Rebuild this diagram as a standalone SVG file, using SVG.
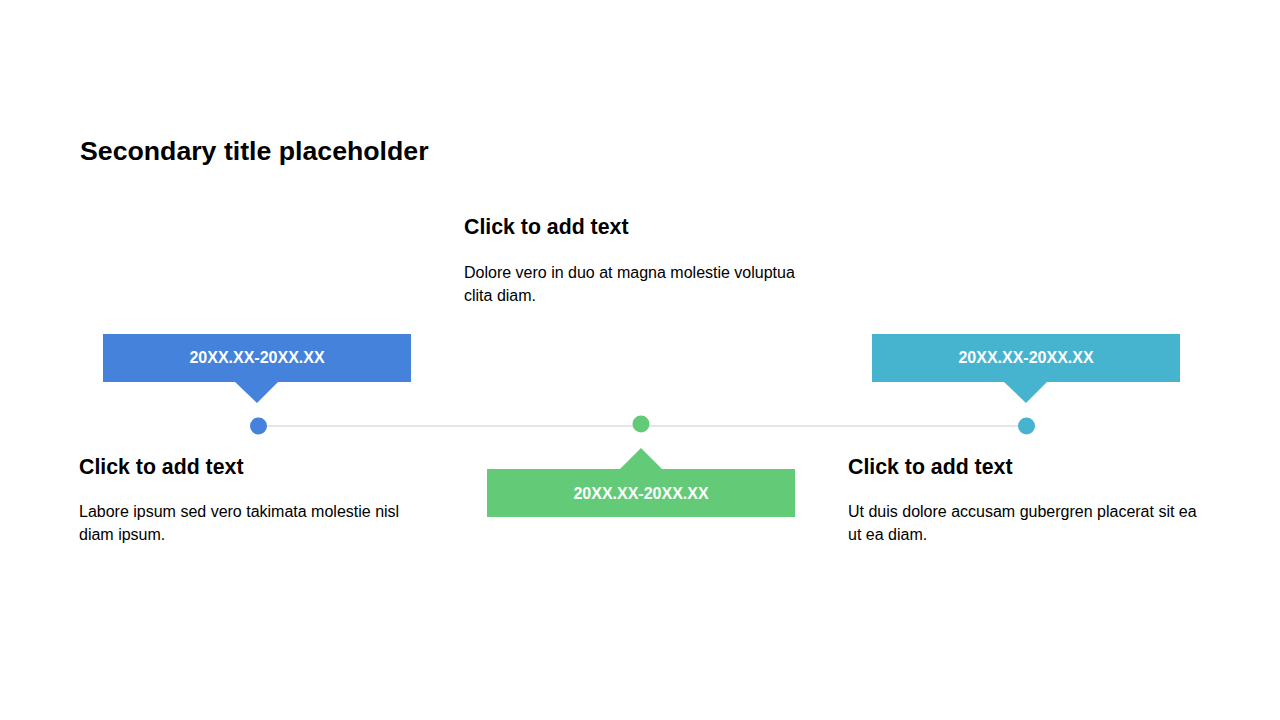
<svg xmlns="http://www.w3.org/2000/svg" width="1280" height="720" viewBox="0 0 1280 720">
<style>
.title{font-family:"Liberation Sans",Arial,sans-serif;font-weight:bold;font-size:26.7px;fill:#000}
.head{font-family:"Liberation Sans",Arial,sans-serif;font-weight:bold;font-size:21.3px;fill:#000}
.body{font-family:"Liberation Sans",Arial,sans-serif;font-size:16px;fill:#000}
.date{font-family:"Liberation Sans",Arial,sans-serif;font-weight:bold;font-size:16px;fill:#fff;text-anchor:middle}
.blue{fill:#4582DC}
.green{fill:#63CB78}
.teal{fill:#46B4CF}
</style>
<rect width="1280" height="720" fill="#fff"/>
<text class="title" x="80" y="160">Secondary title placeholder</text>
<g id="connectors">
<line x1="258" y1="426" x2="1027" y2="426" stroke="#cccccc" stroke-width="1.2"/>
</g>
<g id="node-1">
<rect class="blue" x="103" y="334" width="308" height="48"/>
<polygon class="blue" points="234,381 279,381 257,403"/>
<text class="date" x="257" y="363">20XX.XX-20XX.XX</text>
<circle class="blue" cx="258.5" cy="426" r="8.5"/>
<text class="head" x="79" y="474">Click to add text</text>
<text class="body" x="79" y="517">Labore ipsum sed vero takimata molestie nisl</text>
<text class="body" x="79" y="540">diam ipsum.</text>
</g>
<g id="node-2">
<circle class="green" cx="641" cy="424" r="8.5"/>
<polygon class="green" points="619,470 663,470 641,448"/>
<rect class="green" x="487" y="469" width="308" height="48"/>
<text class="date" x="641" y="499">20XX.XX-20XX.XX</text>
<text class="head" x="464" y="234">Click to add text</text>
<text class="body" x="464" y="278">Dolore vero in duo at magna molestie voluptua</text>
<text class="body" x="464" y="301">clita diam.</text>
</g>
<g id="node-3">
<rect class="teal" x="872" y="334" width="308" height="48"/>
<polygon class="teal" points="1003,381 1048,381 1026,403"/>
<text class="date" x="1026" y="363">20XX.XX-20XX.XX</text>
<circle class="teal" cx="1026.5" cy="426" r="8.5"/>
<text class="head" x="848" y="474">Click to add text</text>
<text class="body" x="848" y="517">Ut duis dolore accusam gubergren placerat sit ea</text>
<text class="body" x="848" y="540">ut ea diam.</text>
</g>
</svg>
